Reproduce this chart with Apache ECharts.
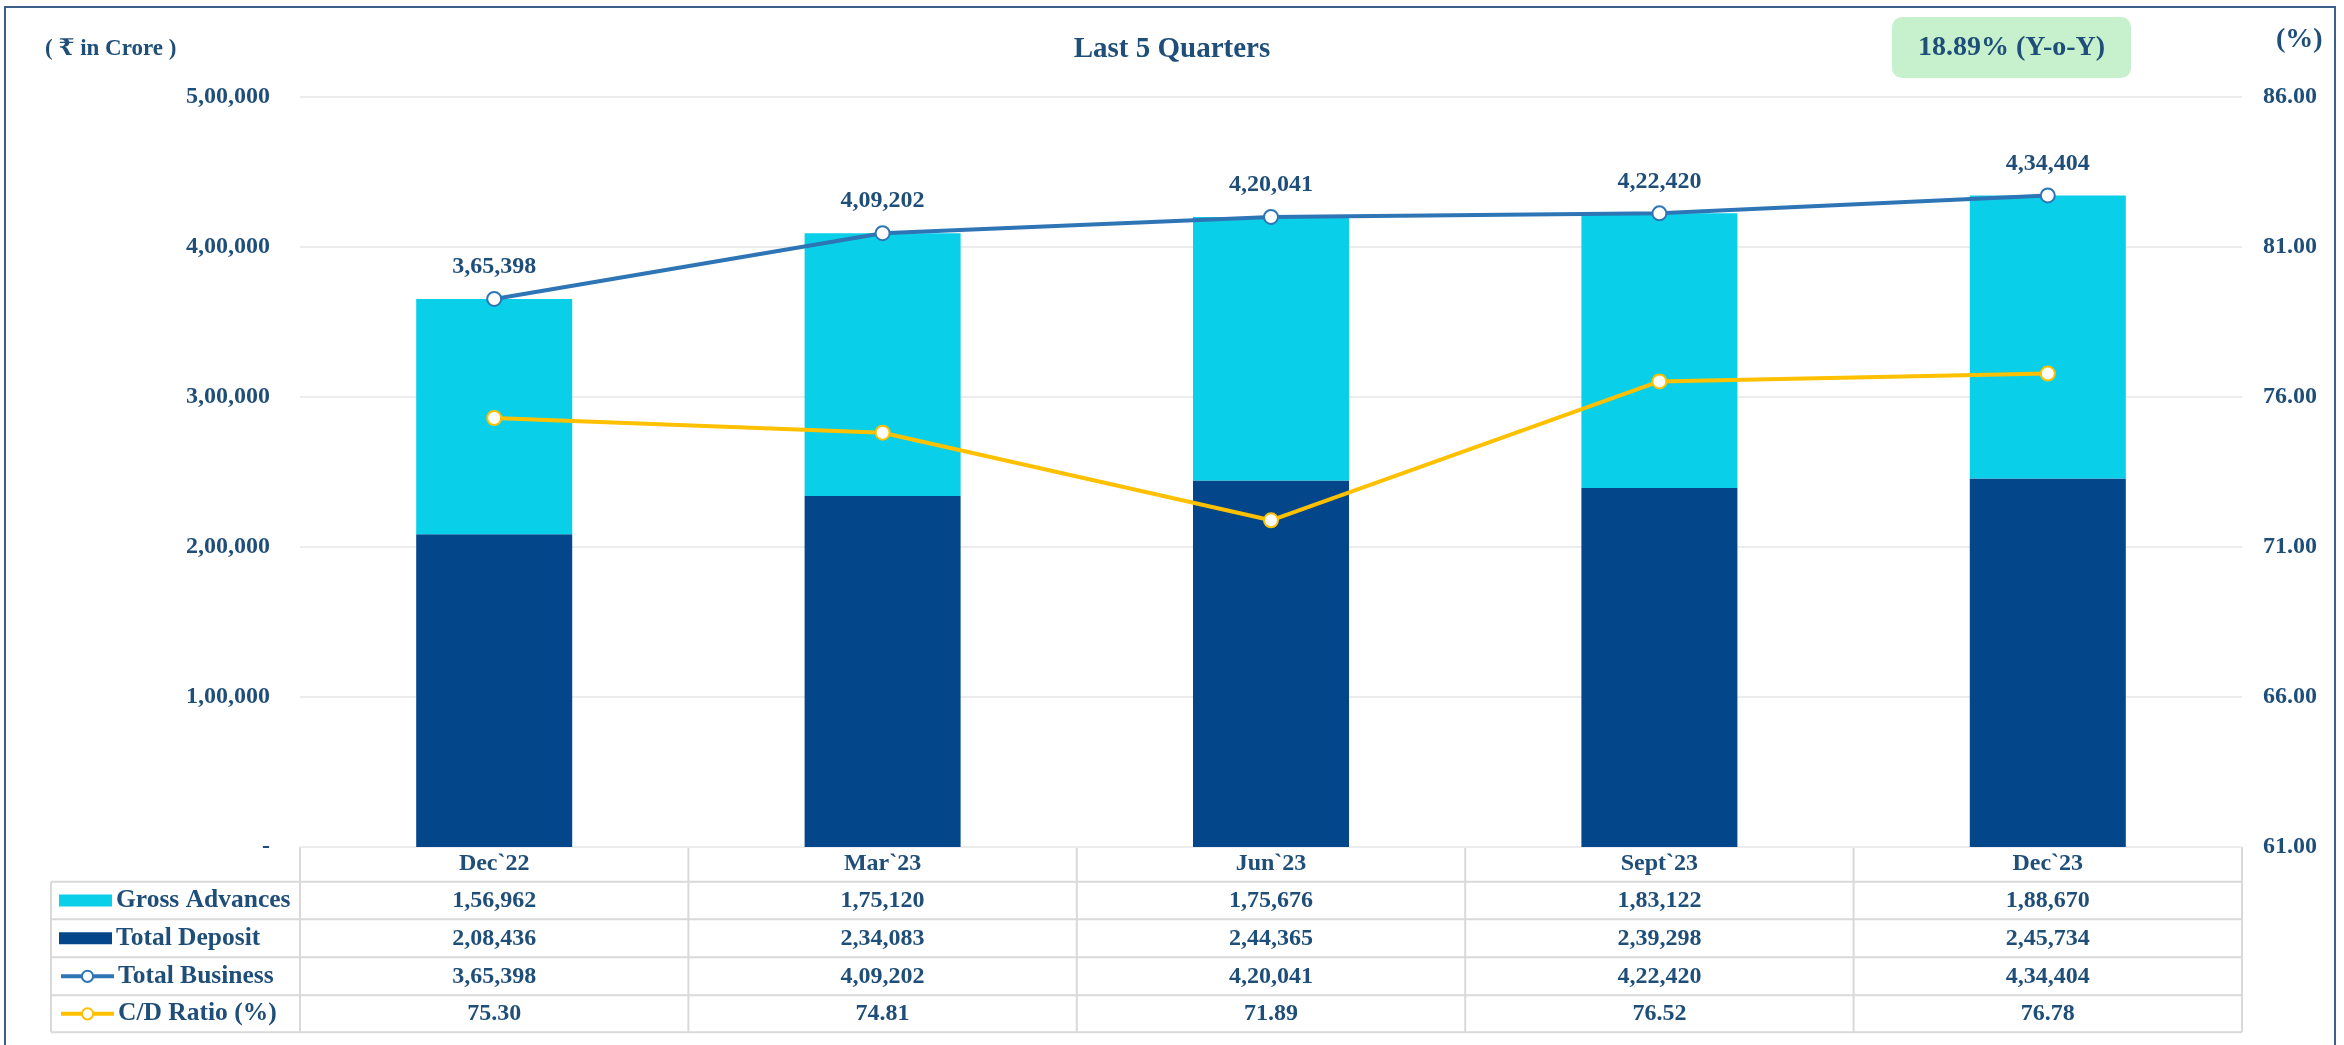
<!DOCTYPE html>
<html>
<head>
    <meta charset="utf-8" />
    <title>Last 5 Quarters</title>
    <script src="https://cdn.jsdelivr.net/npm/echarts@6/dist/echarts.min.js"></script>
    <style>
        html, body { margin: 0; padding: 0; background: #fff; }
    </style>
</head>
<body>
<div id="main" style="width: 2344px;height:1045px;"></div>
<script type="text/javascript">
    // data
    var quarters = ['Dec`22', 'Mar`23', 'Jun`23', 'Sept`23', 'Dec`23'];
    var grossAdvances = [156962, 175120, 175676, 183122, 188670];
    var totalDeposit = [208436, 234083, 244365, 239298, 245734];
    var totalBusiness = [365398, 409202, 420041, 422420, 434404];
    var cdRatio = [75.30, 74.81, 71.89, 76.52, 76.78];
    var yoyText = '18.89% (Y-o-Y)';

    // layout
    var FONT = '"Liberation Serif", "DejaVu Serif", serif';
    var NAVY = '#1F4E79';
    var GRID_LEFT = 300, GRID_TOP = 97, GRID_W = 1942, GRID_H = 750;
    var GRID_BOTTOM_Y = GRID_TOP + GRID_H;
    var TABLE_LEFT = 51;
    var rowLines = [881.7, 919.3, 957.3, 995.3, 1032.3];   // bottom edges of header + rows
    var rowCenters = [864.2, 900.5, 938.3, 976.3, 1013.8];

    // indian digit grouping 3,65,398
    function inr(n) {
        var s = String(Math.round(n));
        if (s.length <= 3) return s;
        var last3 = s.slice(-3), rest = s.slice(0, -3);
        return rest.replace(/\B(?=(\d{2})+(?!\d))/g, ',') + ',' + last3;
    }

    var myChart = echarts.init(document.getElementById('main'));

    var rows = [
        grossAdvances.map(inr),
        totalDeposit.map(inr),
        totalBusiness.map(inr),
        cdRatio.map(function (v) { return v.toFixed(2); })
    ];

    var labelBase = { fontFamily: FONT, fontWeight: 'bold', fontSize: 24, color: NAVY };

    // x axes: first one carries the series, the others just print table rows
    var xAxes = [{
        type: 'category', gridIndex: 0, position: 'bottom', data: quarters,
        axisLine: { show: false }, axisTick: { show: false }, splitLine: { show: false },
        axisLabel: Object.assign({ interval: 0, margin: rowCenters[0] - GRID_BOTTOM_Y, verticalAlign: 'middle' }, labelBase)
    }];
    rows.forEach(function (r, i) {
        xAxes.push({
            type: 'category', gridIndex: 0, position: 'bottom', data: r,
            axisLine: { show: false }, axisTick: { show: false }, splitLine: { show: false },
            axisLabel: Object.assign({ interval: 0, margin: rowCenters[i + 1] - GRID_BOTTOM_Y, verticalAlign: 'middle' }, labelBase)
        });
    });

    // table borders
    var tableLines = [];
    var lineStyle = { stroke: '#D9D9D9', lineWidth: 2 };
    var tableRight = GRID_LEFT + GRID_W;
    tableLines.push({ type: 'line', shape: { x1: GRID_LEFT, y1: GRID_BOTTOM_Y, x2: tableRight, y2: GRID_BOTTOM_Y }, style: lineStyle });
    rowLines.forEach(function (y) {
        tableLines.push({ type: 'line', shape: { x1: TABLE_LEFT, y1: y, x2: tableRight, y2: y }, style: lineStyle });
    });
    tableLines.push({ type: 'line', shape: { x1: TABLE_LEFT, y1: rowLines[0], x2: TABLE_LEFT, y2: rowLines[4] }, style: lineStyle });
    for (var c = 0; c <= quarters.length; c++) {
        var x = GRID_LEFT + GRID_W * c / quarters.length;
        tableLines.push({ type: 'line', shape: { x1: x, y1: GRID_BOTTOM_Y, x2: x, y2: rowLines[4] }, style: lineStyle });
    }

    var seriesNames = ['Gross Advances', 'Total Deposit', 'Total Business', 'C/D Ratio (%)'];
    // one legend per table row so each sits in its own cell
    var legends = seriesNames.map(function (name, i) {
        var isBar = i < 2;
        return {
            data: [isBar ? { name: name, icon: 'rect' } : name],
            orient: 'vertical', left: 59, top: rowCenters[i + 1] - 13,
            padding: 0, itemWidth: 53, itemHeight: isBar ? 12 : 14, selectedMode: false,
            lineStyle: { width: 4 },
            itemStyle: { borderWidth: 3 },
            textStyle: Object.assign({}, labelBase, { fontSize: 25.5, padding: [0, 0, 0, -1] })
        };
    });

    var option = {
        backgroundColor: '#fff',
        animation: false,
        title: [
            { text: 'Last 5 Quarters', left: 'center', top: 30, textStyle: { fontFamily: FONT, fontWeight: 'bold', fontSize: 29, color: NAVY } },
            { text: '( \u20B9 in Crore )', left: 40, top: 33, textStyle: { fontFamily: FONT, fontWeight: 'bold', fontSize: 23, color: NAVY } },
            { text: '(%)', left: 2271, top: 21, textStyle: { fontFamily: FONT, fontWeight: 'bold', fontSize: 28, color: NAVY } }
        ],
        legend: legends,
        grid: { left: GRID_LEFT, top: GRID_TOP, width: GRID_W, height: GRID_H, outerBoundsMode: 'none', containLabel: false },
        xAxis: xAxes,
        yAxis: [{
            type: 'value', min: 0, max: 500000, interval: 100000,
            axisLine: { show: false }, axisTick: { show: false },
            splitLine: { lineStyle: { color: '#ECECEC', width: 2 } },
            axisLabel: Object.assign({ margin: 30, formatter: function (v) { return v === 0 ? '-' : inr(v); } }, labelBase)
        }, {
            type: 'value', min: 61, max: 86, interval: 5, position: 'right',
            axisLine: { show: false }, axisTick: { show: false }, splitLine: { show: false },
            axisLabel: Object.assign({ margin: 21, formatter: function (v) { return v.toFixed(2); } }, labelBase)
        }],
        series: [{
            name: 'Total Deposit', type: 'bar', stack: 'biz', barWidth: 156,
            itemStyle: { color: '#03468A' }, data: totalDeposit
        }, {
            name: 'Gross Advances', type: 'bar', stack: 'biz', barWidth: 156,
            itemStyle: { color: '#0ACFE8' }, data: grossAdvances
        }, {
            name: 'Total Business', type: 'line', z: 5,
            symbol: 'emptyCircle', symbolSize: 14,
            lineStyle: { color: '#2E75B6', width: 4 },
            itemStyle: { color: '#2E75B6', borderWidth: 3.5 },
            label: Object.assign({ show: true, position: 'top', distance: 12, formatter: function (p) { return inr(p.value); } }, labelBase),
            data: totalBusiness
        }, {
            name: 'C/D Ratio (%)', type: 'line', yAxisIndex: 1, z: 5,
            symbol: 'emptyCircle', symbolSize: 14,
            lineStyle: { color: '#FFC000', width: 4 },
            itemStyle: { color: '#FFC000', borderWidth: 3.5 },
            data: cdRatio
        }],
        graphic: [
            { type: 'rect', shape: { x: 5, y: 7, width: 2330, height: 1060 }, style: { fill: 'none', stroke: '#3B5F8A', lineWidth: 2 }, silent: true },
            { type: 'group', children: tableLines, silent: true },
            {
                type: 'group', left: 1892, top: 17, children: [
                    { type: 'rect', shape: { x: 0, y: 0, width: 239, height: 61, r: 10 }, style: { fill: '#C6F1CC' } },
                    { type: 'text', x: 119.5, y: 31, style: { text: yoyText, align: 'center', verticalAlign: 'middle', fontFamily: FONT, fontWeight: 'bold', fontSize: 28, fill: NAVY } }
                ]
            }
        ]
    };
    myChart.setOption(option);
</script>
</body>
</html>
